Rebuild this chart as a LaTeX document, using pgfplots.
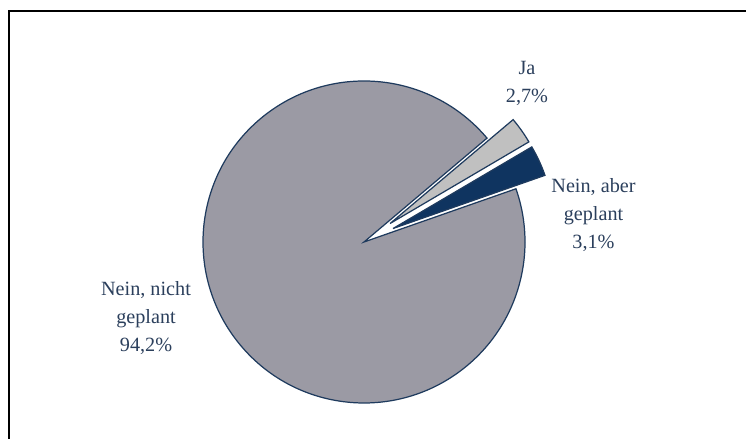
\documentclass[border=0pt]{standalone}
\usepackage{fontspec}
\setmainfont{Liberation Serif}
\usepackage{pgfplots}
\usepackage{pgfplotstable}
\pgfplotsset{compat=1.18}

\definecolor{bigslice}{HTML}{9B9AA4}
\definecolor{jaslice}{HTML}{C0C0C0}
\definecolor{aberslice}{HTML}{0F3460}
\definecolor{edge}{HTML}{1F3B5E}
\definecolor{txt}{HTML}{2B3F5C}

\pgfplotstableread{
name value
aber 3.1
ja 2.7
nicht 94.2
}\piedata

\begin{document}
\begin{tikzpicture}
\pgfplotstablegetelem{0}{value}\of\piedata \let\vAber\pgfplotsretval
\pgfplotstablegetelem{1}{value}\of\piedata \let\vJa\pgfplotsretval
\pgfplotstablegetelem{2}{value}\of\piedata \let\vNicht\pgfplotsretval
% angles, counter-clockwise from the lower edge of "Nein, aber geplant"
\pgfmathsetmacro\aA{19.3}
\pgfmathsetmacro\aB{\aA+3.6*\vAber}
\pgfmathsetmacro\aC{\aB+3.6*\vJa}
\pgfmathsetmacro\aD{\aC+3.6*\vNicht}
\pgfmathsetmacro\mAber{(\aA+\aB)/2}
\pgfmathsetmacro\mJa{(\aB+\aC)/2}
\def\R{3.22}
\def\ex{0.64}
\begin{axis}[
  name=ax, x=1cm, y=1cm, hide axis, scale only axis,
  xmin=0, xmax=14.92, ymin=0, ymax=8.78, clip=false,
]
% frame (only top and left edges are in view)
\draw[black, line width=1.2pt] (axis cs:0.18,0) -- (axis cs:0.18,8.56) -- (axis cs:14.92,8.56);
% big slice
\filldraw[fill=bigslice, draw=edge, line width=0.7pt, line join=miter]
  (axis cs:7.28,3.94) -- ++(\aC:\R) arc[start angle=\aC, end angle=\aD, radius=\R] -- cycle;
% Ja (exploded)
\filldraw[fill=jaslice, draw=edge, line width=0.7pt, line join=miter]
  (axis cs:7.28,3.94) ++(\mJa:\ex) -- ++(\aB:\R) arc[start angle=\aB, end angle=\aC, radius=\R] -- cycle;
% Nein, aber geplant (exploded)
\filldraw[fill=aberslice, draw=edge, line width=0.7pt, line join=miter]
  (axis cs:7.28,3.94) ++(\mAber:\ex) -- ++(\aA:\R) arc[start angle=\aA, end angle=\aB, radius=\R] -- cycle;
% labels
\begin{scope}[every node/.style={anchor=base, text=txt, font=\fontsize{11.5}{13}\selectfont, inner sep=0pt}]
\node at (axis cs:10.54,7.28) {Ja};
\node at (axis cs:10.54,6.72) {2,7\%};
\node at (axis cs:11.87,4.92) {Nein, aber};
\node at (axis cs:11.87,4.36) {geplant};
\node at (axis cs:11.87,3.80) {3,1\%};
\node at (axis cs:2.92,2.86) {Nein, nicht};
\node at (axis cs:2.92,2.30) {geplant};
\node at (axis cs:2.92,1.74) {94,2\%};
\end{scope}
\end{axis}
\pgfresetboundingbox
\path (ax.south west) rectangle (ax.north east);
\end{tikzpicture}
\end{document}
